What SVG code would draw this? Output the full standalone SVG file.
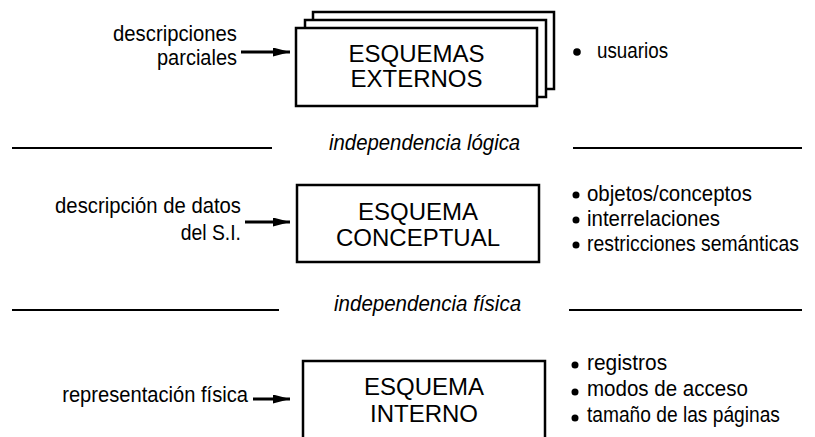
<svg xmlns="http://www.w3.org/2000/svg" width="815" height="437" viewBox="0 0 815 437">
<style>
.box{fill:#fff;stroke:#000;stroke-width:2.5}
.title{font-family:"Liberation Sans",Arial,sans-serif;font-size:24px;fill:#000;text-anchor:middle}
.lbl{font-family:"Liberation Sans Narrow","Liberation Sans",Arial,sans-serif;font-size:22px;fill:#000}
.r{text-anchor:end}
.it{font-style:italic}
.sep{stroke:#000;stroke-width:2.2}
.arr{stroke:#000;stroke-width:3;fill:none;marker-end:url(#ah)}
</style>
<defs>
<marker id="ah" markerUnits="userSpaceOnUse" markerWidth="18" markerHeight="10" refX="17" refY="4.5" orient="auto">
<path d="M0,0 L17,4.5 L0,9 z" fill="#000"/>
</marker>
</defs>
<rect width="815" height="437" fill="#fff"/>

<g id="externos">
<rect class="box" x="313" y="12" width="241" height="77"/>
<rect class="box" x="305" y="20" width="241" height="77"/>
<rect class="box" x="296" y="28" width="241" height="78"/>
<text class="title" x="416.5" y="62">ESQUEMAS</text>
<text class="title" x="416.5" y="87">EXTERNOS</text>
</g>

<g id="conceptual">
<rect class="box" x="297" y="185" width="242" height="77"/>
<text class="title" x="418" y="220">ESQUEMA</text>
<text class="title" x="418" y="246">CONCEPTUAL</text>
</g>

<g id="interno">
<rect class="box" x="303" y="361" width="242" height="90"/>
<text class="title" x="424" y="395">ESQUEMA</text>
<text class="title" x="424" y="422">INTERNO</text>
</g>

<g id="label-externos">
<text class="lbl r" transform="translate(237,41) scale(0.922,1)">descripciones</text>
<text class="lbl r" transform="translate(237,65) scale(0.909,1)">parciales</text>
</g>
<g id="label-conceptual">
<text class="lbl r" transform="translate(241,213) scale(0.922,1)">descripción de datos</text>
<text class="lbl r" transform="translate(241,240) scale(0.88,1)">del S.I.</text>
</g>
<g id="label-interno">
<text class="lbl r" transform="translate(248,402) scale(0.916,1)">representación física</text>
</g>

<g id="list-externos">
<circle cx="577" cy="52" r="3.8"/>
<text class="lbl" transform="translate(597,58) scale(0.855,1)">usuarios</text>
</g>
<g id="list-conceptual">
<circle cx="576" cy="195" r="3.5"/>
<text class="lbl" transform="translate(587,201) scale(0.93,1)">objetos/conceptos</text>
<circle cx="576" cy="220" r="3.5"/>
<text class="lbl" transform="translate(587,226) scale(0.93,1)">interrelaciones</text>
<circle cx="576" cy="245" r="3.5"/>
<text class="lbl" transform="translate(587,251) scale(0.88,1)">restricciones semánticas</text>
</g>
<g id="list-interno">
<circle cx="575" cy="365" r="3.5"/>
<text class="lbl" transform="translate(587,370) scale(0.95,1)">registros</text>
<circle cx="575" cy="392" r="3.5"/>
<text class="lbl" transform="translate(587,396) scale(0.934,1)">modos de acceso</text>
<circle cx="575" cy="418" r="3.5"/>
<text class="lbl" transform="translate(587,422) scale(0.872,1)">tamaño de las páginas</text>
</g>

<g id="sep-logica">
<line class="sep" x1="12" y1="148" x2="272" y2="148"/>
<line class="sep" x1="573" y1="148" x2="802" y2="148"/>
<text class="lbl it" transform="translate(329,150) scale(0.925,1)">independencia lógica</text>
</g>
<g id="sep-fisica">
<line class="sep" x1="12" y1="310" x2="279" y2="310"/>
<line class="sep" x1="569" y1="310" x2="802" y2="310"/>
<text class="lbl it" transform="translate(334,311) scale(0.933,1)">independencia física</text>
</g>

<g id="connectors">
<line class="arr" x1="241" y1="52" x2="290" y2="52"/>
<line class="arr" x1="245" y1="222" x2="290" y2="222"/>
<line class="arr" x1="253" y1="399" x2="290" y2="399"/>
</g>
</svg>
